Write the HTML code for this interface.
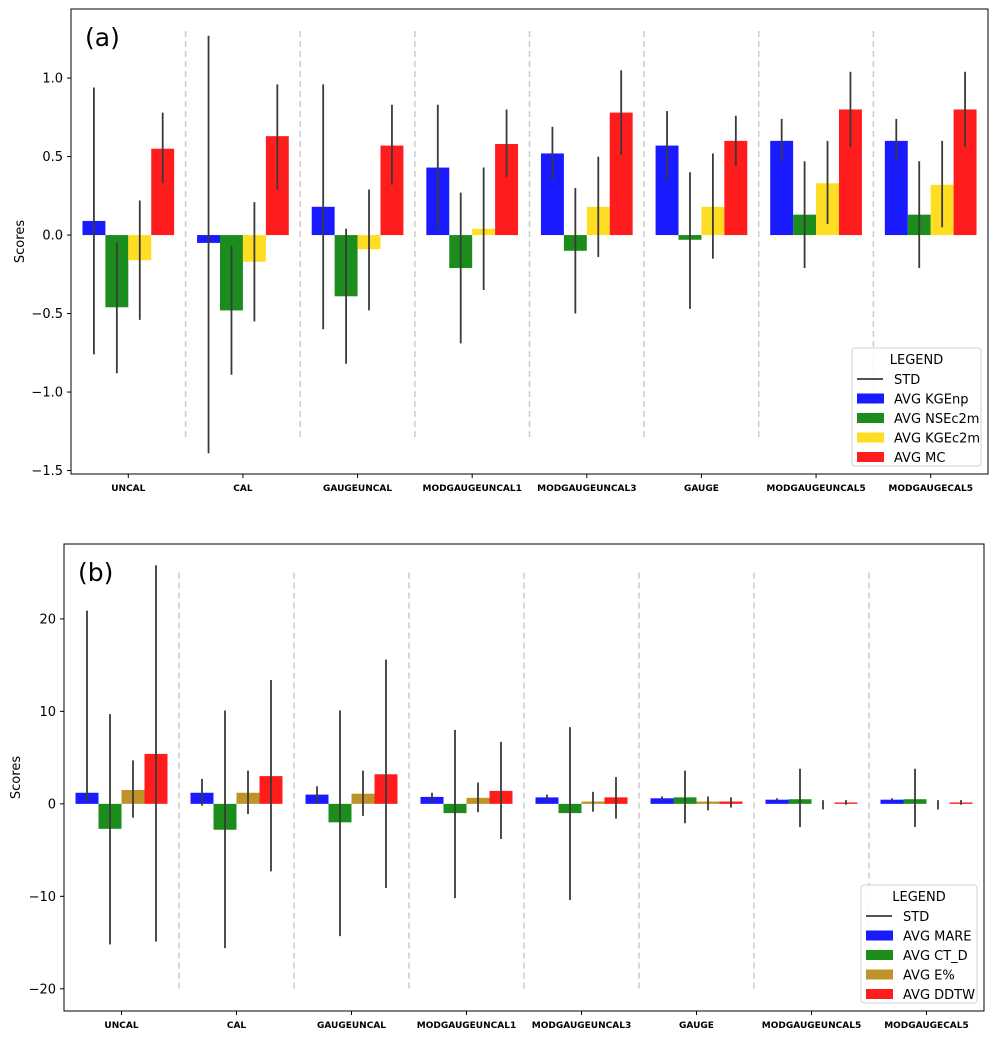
<!DOCTYPE html>
<html><head><meta charset="utf-8"><style>
body{margin:0;background:#fff;font-family:"Liberation Sans","DejaVu Sans",sans-serif}
svg text{font-family:"DejaVu Sans","Liberation Sans",sans-serif}
</style></head><body>
<svg id="c" width="1000" height="1035" viewBox="0 0 1000 1035" xmlns="http://www.w3.org/2000/svg"></svg>
<script>
const categories = ["UNCAL","CAL","GAUGEUNCAL","MODGAUGEUNCAL1","MODGAUGEUNCAL3","GAUGE","MODGAUGEUNCAL5","MODGAUGECAL5"];
// panel (a)
const aSeries = ["AVG KGEnp","AVG NSEc2m","AVG KGEc2m","AVG MC"];
const aKGEnp = [0.09,-0.05,0.18,0.43,0.52,0.57,0.60,0.60];
const aKGEnpHi = [0.94,1.27,0.96,0.83,0.69,0.79,0.74,0.74];
const aKGEnpLo = [-0.76,-1.39,-0.60,0.03,0.35,0.35,0.47,0.47];
const aNSE = [-0.46,-0.48,-0.39,-0.21,-0.10,-0.03,0.13,0.13];
const aNSEHi = [-0.05,-0.07,0.04,0.27,0.30,0.40,0.47,0.47];
const aNSELo = [-0.88,-0.89,-0.82,-0.69,-0.50,-0.47,-0.21,-0.21];
const aKGE = [-0.16,-0.17,-0.09,0.04,0.18,0.18,0.33,0.32];
const aKGEHi = [0.22,0.21,0.29,0.43,0.50,0.52,0.60,0.60];
const aKGELo = [-0.54,-0.55,-0.48,-0.35,-0.14,-0.15,0.07,0.05];
const aMC = [0.55,0.63,0.57,0.58,0.78,0.60,0.80,0.80];
const aMCHi = [0.78,0.96,0.83,0.80,1.05,0.76,1.04,1.04];
const aMCLo = [0.33,0.29,0.32,0.37,0.51,0.44,0.56,0.56];
const aTicks = [1.0,0.5,0.0,-0.5,-1.0,-1.5];
const aTickLabels = ["1.0","0.5","0.0","\u22120.5","\u22121.0","\u22121.5"];
// panel (b)
const bSeries = ["AVG MARE","AVG CT_D","AVG E%","AVG DDTW"];
const bMARE = [1.2,1.2,1.0,0.75,0.7,0.6,0.45,0.45];
const bMAREHi = [20.9,2.7,1.9,1.2,1.0,0.8,0.6,0.6];
const bMARELo = [0.2,-0.2,0.0,0.2,0.3,0.3,0.3,0.3];
const bCTD = [-2.7,-2.8,-2.0,-1.0,-1.0,0.7,0.5,0.5];
const bCTDHi = [9.7,10.1,10.1,8.0,8.3,3.6,3.8,3.8];
const bCTDLo = [-15.2,-15.6,-14.3,-10.2,-10.4,-2.1,-2.5,-2.5];
const bE = [1.5,1.2,1.1,0.65,0.25,0.25,0.0,0.0];
const bEHi = [4.7,3.6,3.6,2.3,1.3,0.8,0.4,0.4];
const bELo = [-1.5,-1.1,-1.3,-0.9,-0.85,-0.7,-0.6,-0.6];
const bDDTW = [5.4,3.0,3.2,1.4,0.7,0.25,0.15,0.15];
const bDDTWHi = [25.8,13.4,15.6,6.7,2.9,0.7,0.4,0.4];
const bDDTWLo = [-14.9,-7.3,-9.1,-3.8,-1.6,-0.4,-0.1,-0.1];
const bTicks = [20,10,0,-10,-20];
const bTickLabels = ["20","10","0","\u221210","\u221220"];

const NS="http://www.w3.org/2000/svg";
const svg=document.getElementById('c');
function mk(tag,attrs,parent){const e=document.createElementNS(NS,tag);for(const k in attrs)e.setAttribute(k,attrs[k]);(parent||svg).appendChild(e);return e;}

function panel(cfg){
  const g=mk('g',{});
  
  
  const {x0,x1,y0,y1,ymin,ymax}=cfg;
  const sp=(x1-x0)/categories.length;
  const X=i=>x0+sp*(i+0.5);
  const Y=v=>y1-(v-ymin)/(ymax-ymin)*(y1-y0);
  const bw=sp*0.8/4;
  // separators
  for(let i=0;i<categories.length-1;i++){
    const l=mk('line',{x1:X(i)+sp/2,x2:X(i)+sp/2,y1:Y(cfg.sepTop),y2:Y(cfg.sepBot),stroke:'#cccccc','stroke-width':1.5,'stroke-dasharray':'6,4'},g);
    
    
  }
  cfg.series.forEach((s,si)=>{
    categories.forEach((c,i)=>{
      const v=s.vals[i];
      const bx=X(i)-sp*0.4+si*bw;
      const r=mk('rect',{x:bx,y:Math.min(Y(v),Y(0)),width:bw,height:Math.abs(Y(v)-Y(0)),fill:s.color},g);
      
      
    });
  });
  cfg.series.forEach((s,si)=>{
    categories.forEach((c,i)=>{
      const cx=X(i)-sp*0.4+si*bw+bw/2;
      const l=mk('line',{x1:cx,x2:cx,y1:Y(s.hi[i]),y2:Y(s.lo[i]),stroke:'#3a3a3a','stroke-width':1.8},g);
      
      
    });
  });
  // frame
  const f=mk('rect',{x:x0,y:y0,width:x1-x0,height:y1-y0,fill:'none',stroke:'#000','stroke-width':1},g);
  
  
  cfg.ticks.forEach((t,i)=>{
    mk('line',{x1:x0-4,x2:x0,y1:Y(t),y2:Y(t),stroke:'#000'},g);
    const tx=mk('text',{x:x0-8,y:Y(t)+4.5,'text-anchor':'end','font-size':13},g);
    tx.textContent=cfg.tickLabels[i];
    
    
  });
  categories.forEach((c,i)=>{
    mk('line',{x1:X(i),x2:X(i),y1:y1,y2:y1+4,stroke:'#000'},g);
    const tx=mk('text',{x:X(i),y:y1+17,'text-anchor':'middle','font-size':9,'font-weight':'bold'},g);
    tx.textContent=c;
    
    
  });
  const yl=mk('text',{x:0,y:0,'text-anchor':'middle','font-size':13,transform:`translate(${cfg.ylx},${(y0+y1)/2}) rotate(-90)`},g);
  yl.textContent='Scores';
  
  
  const pl=mk('text',{x:x0+14,y:y0+37,'font-size':25},g);
  pl.textContent=cfg.label;
  
  
  // legend
  const L=cfg.leg;
  const lg=mk('g',{},g);
  
  
  mk('rect',{x:L.x,y:L.y,width:L.w,height:118,rx:3,fill:'#fff','fill-opacity':0.85,stroke:'#d0d0d0'},lg);
  const tt=mk('text',{x:L.x+L.w/2,y:L.y+16,'text-anchor':'middle','font-size':13},lg);
  tt.textContent='LEGEND';
  const rows=[{label:'STD',line:true}].concat(cfg.series.map(s=>({label:s.label,color:s.color})));
  rows.forEach((r,k)=>{
    const ry=L.y+31+k*19.5;
    if(r.line) mk('line',{x1:L.x+5,x2:L.x+31,y1:ry,y2:ry,stroke:'#3a3a3a','stroke-width':1.8},lg);
    else mk('rect',{x:L.x+5,y:ry-5,width:27,height:10,fill:r.color},lg);
    const t=mk('text',{x:L.x+42,y:ry+5,'font-size':13},lg);
    t.textContent=r.label;
    
    
  });
}
panel({name:'panel-a',x0:71,x1:988,y0:9,y1:474,ymin:-1.522,ymax:1.44,sepTop:1.3,sepBot:-1.3,
  ticks:aTicks,tickLabels:aTickLabels,ylx:24,label:'(a)',leg:{x:852,y:348,w:129},
  series:[{key:'kgenp',label:aSeries[0],color:'#1a1aff',vals:aKGEnp,hi:aKGEnpHi,lo:aKGEnpLo},
          {key:'nsec2m',label:aSeries[1],color:'#1c8c1c',vals:aNSE,hi:aNSEHi,lo:aNSELo},
          {key:'kgec2m',label:aSeries[2],color:'#ffdd22',vals:aKGE,hi:aKGEHi,lo:aKGELo},
          {key:'mc',label:aSeries[3],color:'#ff1c1c',vals:aMC,hi:aMCHi,lo:aMCLo}]});
panel({name:'panel-b',x0:64,x1:984,y0:544,y1:1011,ymin:-22.4,ymax:28.1,sepTop:25,sepBot:-20,
  ticks:bTicks,tickLabels:bTickLabels,ylx:20,label:'(b)',leg:{x:861,y:885,w:116},
  series:[{key:'mare',label:bSeries[0],color:'#1a1aff',vals:bMARE,hi:bMAREHi,lo:bMARELo},
          {key:'ct-d',label:bSeries[1],color:'#1c8c1c',vals:bCTD,hi:bCTDHi,lo:bCTDLo},
          {key:'e-pct',label:bSeries[2],color:'#be9428',vals:bE,hi:bEHi,lo:bELo},
          {key:'ddtw',label:bSeries[3],color:'#ff1c1c',vals:bDDTW,hi:bDDTWHi,lo:bDDTWLo}]});
</script>
</body></html>
